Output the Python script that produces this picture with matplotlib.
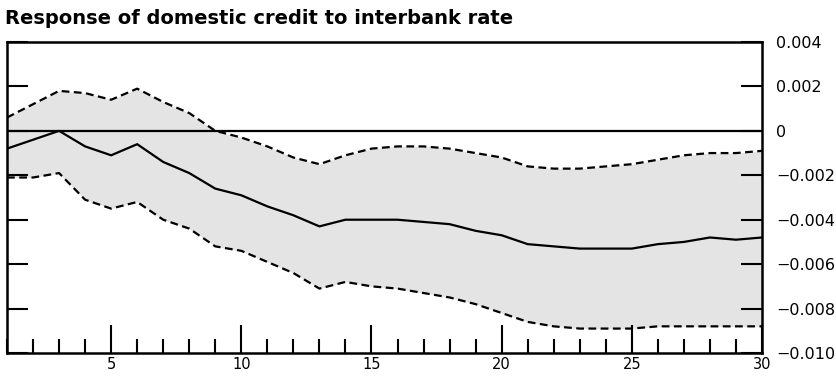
import numpy as np
import matplotlib
matplotlib.use("Agg")
import matplotlib.pyplot as plt
from matplotlib.ticker import MultipleLocator, FixedLocator

# impulse response, periods 1..30
periods = list(range(1, 31))
response = [-0.0008, -0.0004, 0.0000, -0.0007, -0.0011, -0.0006, -0.0014, -0.0019,
            -0.0026, -0.0029, -0.0034, -0.0038, -0.0043, -0.0040, -0.0040, -0.0040,
            -0.0041, -0.0042, -0.0045, -0.0047, -0.0051, -0.0052, -0.0053, -0.0053,
            -0.0053, -0.0051, -0.0050, -0.0048, -0.0049, -0.0048]
upper = [0.0006, 0.0012, 0.0018, 0.0017, 0.0014, 0.0019, 0.0013, 0.0008,
         0.0000, -0.0003, -0.0007, -0.0012, -0.0015, -0.0011, -0.0008, -0.0007,
         -0.0007, -0.0008, -0.0010, -0.0012, -0.0016, -0.0017, -0.0017, -0.0016,
         -0.0015, -0.0013, -0.0011, -0.0010, -0.0010, -0.0009]
lower = [-0.0021, -0.0021, -0.0019, -0.0031, -0.0035, -0.0032, -0.0040, -0.0044,
         -0.0052, -0.0054, -0.0059, -0.0064, -0.0071, -0.0068, -0.0070, -0.0071,
         -0.0073, -0.0075, -0.0078, -0.0082, -0.0086, -0.0088, -0.0089, -0.0089,
         -0.0089, -0.0088, -0.0088, -0.0088, -0.0088, -0.0088]

title = "Response of domestic credit to interbank rate"
y_ticks = [-0.010, -0.008, -0.006, -0.004, -0.002, 0, 0.002, 0.004]
y_labels = ["\u22120.010", "\u22120.008", "\u22120.006", "\u22120.004", "\u22120.002",
            "0", "0.002", "0.004"]

fig = plt.figure(figsize=(8.37, 3.76), dpi=100)
ax = fig.add_axes([7 / 837, 23 / 376, 755 / 837, 311 / 376])

ax.fill_between(periods, lower, upper, color="#e4e4e4", lw=0)
ax.axhline(0, color="black", lw=1.6)
ax.plot(periods, response, color="black", lw=1.6)
ax.plot(periods, upper, color="black", lw=1.6, dashes=(3.5, 2))
ax.plot(periods, lower, color="black", lw=1.6, dashes=(3.5, 2))

ax.set_xlim(1, 30)
ax.set_ylim(-0.010, 0.004)

ax.xaxis.set_major_locator(MultipleLocator(5))
ax.xaxis.set_minor_locator(MultipleLocator(1))
ax.tick_params(axis="x", which="major", direction="in", length=20, width=1.5,
               labelsize=10.5, pad=3)
ax.tick_params(axis="x", which="minor", direction="in", length=10, width=1.5)

ax.yaxis.set_major_locator(FixedLocator(y_ticks))
ax.set_yticklabels(y_labels)
ax.yaxis.tick_right()
ax.tick_params(axis="y", which="major", direction="in", length=15, width=1.5,
               labelsize=11.5, pad=10, left=True, right=True, labelleft=False,
               labelright=True)

for s in ax.spines.values():
    s.set_linewidth(1.8)

fig.text(5 / 837, 1 - 18 / 376, title, fontsize=14, fontweight="bold",
         ha="left", va="center")

fig.savefig("out.png", dpi=100)
